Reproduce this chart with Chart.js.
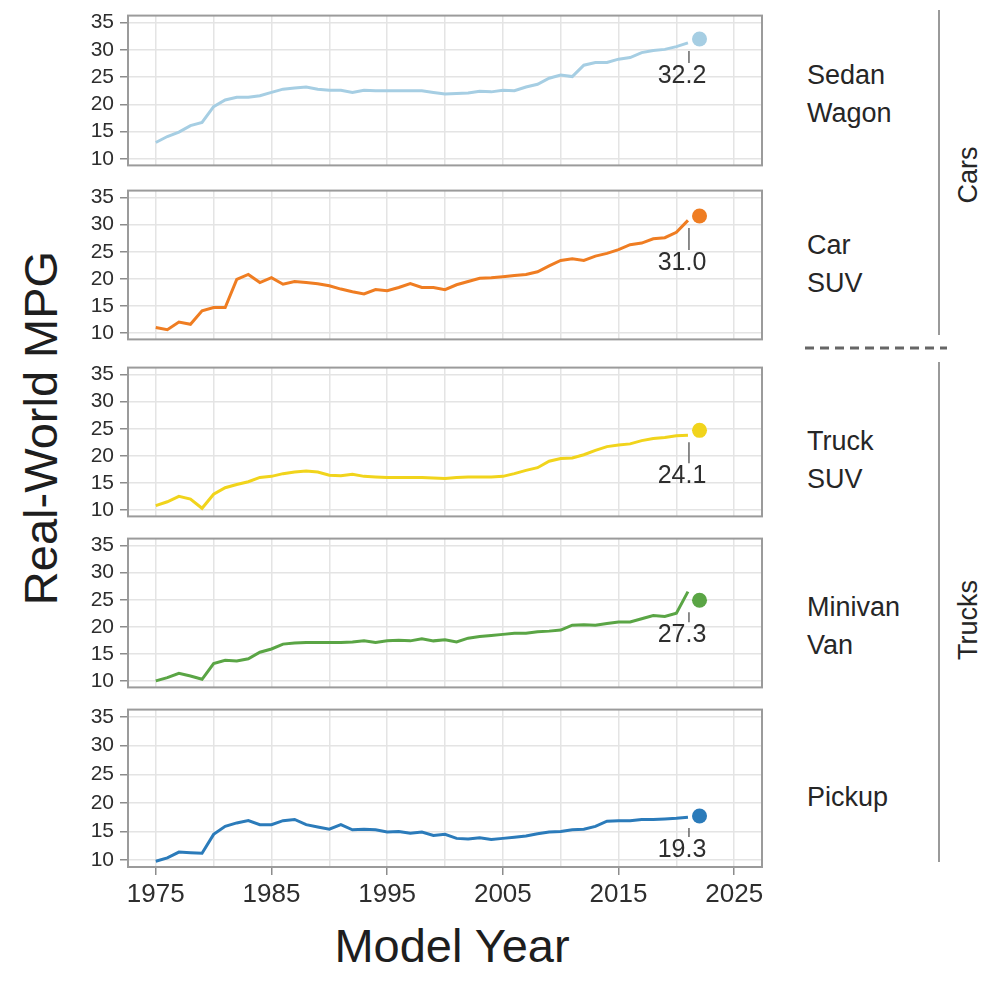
<!DOCTYPE html>
<html lang="en">
<head>
<meta charset="UTF-8">
<title>Real-World MPG by Vehicle Type</title>
<script src="https://cdn.jsdelivr.net/npm/chart.js"></script>
<style>
  * { font-family: 'Liberation Sans', Arial, sans-serif; }
  body { margin: 0; background: #fff; }
  #page { position: relative; width: 999px; height: 990px; overflow: hidden; background: #fff; }
  .panel { position: absolute; left: 0; }
  .rlabel { position: absolute; left: 807px; font-size: 27px; line-height: 38px; color: #262626; transform: translateY(-50%); white-space: nowrap; }
  .group { position: absolute; font-size: 27px; color: #262626; transform: translate(-50%, -50%) rotate(-90deg); white-space: nowrap; }
  .title { position: absolute; font-size: 47px; color: #1e1e1e; white-space: nowrap; transform: translate(-50%, -50%); }
  svg { position: absolute; left: 0; top: 0; }
</style>
</head>
<body>
<div id="page">
  <svg width="999" height="990">
    <line x1="939" y1="10" x2="939" y2="335" stroke="#9a9a9a" stroke-width="2"/>
    <line x1="939" y1="362" x2="939" y2="862" stroke="#9a9a9a" stroke-width="2"/>
    <line x1="805" y1="348" x2="947" y2="348" stroke="#666" stroke-width="3" stroke-dasharray="9 6"/>
  </svg>
  <div class="group" style="left:968px; top:175px;">Cars</div>
  <div class="group" style="left:968px; top:620px;">Trucks</div>
  <div class="title" style="left:40px; top:428px; transform: translate(-50%, -50%) rotate(-90deg);">Real-World MPG</div>
  <div class="title" style="left:452px; top:945px;">Model Year</div>
</div>
<script>
// model years
const years = [1975, 1976, 1977, 1978, 1979, 1980, 1981, 1982, 1983, 1984,
               1985, 1986, 1987, 1988, 1989, 1990, 1991, 1992, 1993, 1994,
               1995, 1996, 1997, 1998, 1999, 2000, 2001, 2002, 2003, 2004,
               2005, 2006, 2007, 2008, 2009, 2010, 2011, 2012, 2013, 2014,
               2015, 2016, 2017, 2018, 2019, 2020, 2021];

const sedanWagon = [13.0, 14.1, 14.9, 16.1, 16.7, 19.6, 20.8, 21.3, 21.3, 21.6,
                    22.2, 22.8, 23.0, 23.2, 22.8, 22.6, 22.6, 22.2, 22.6, 22.5,
                    22.5, 22.5, 22.5, 22.5, 22.2, 21.9, 22.0, 22.1, 22.4, 22.3,
                    22.6, 22.5, 23.2, 23.7, 24.8, 25.4, 25.1, 27.2, 27.7, 27.7,
                    28.3, 28.6, 29.5, 29.9, 30.1, 30.6, 31.3];
const carSuv = [11.0, 10.6, 12.0, 11.6, 14.1, 14.7, 14.7, 19.9, 20.8, 19.3,
                20.2, 19.0, 19.5, 19.3, 19.1, 18.7, 18.1, 17.6, 17.2, 18.0,
                17.8, 18.4, 19.1, 18.4, 18.4, 18.0, 18.9, 19.5, 20.1, 20.2,
                20.4, 20.6, 20.8, 21.3, 22.4, 23.4, 23.7, 23.4, 24.2, 24.7,
                25.4, 26.3, 26.6, 27.4, 27.6, 28.6, 30.8];
const truckSuv = [10.8, 11.5, 12.5, 12.0, 10.3, 12.9, 14.1, 14.7, 15.2, 16.0,
                  16.2, 16.7, 17.0, 17.2, 17.0, 16.4, 16.3, 16.6, 16.2, 16.1,
                  16.0, 16.0, 16.0, 16.0, 15.9, 15.8, 16.0, 16.1, 16.1, 16.1,
                  16.2, 16.7, 17.3, 17.8, 19.0, 19.5, 19.6, 20.2, 21.0, 21.7,
                  22.0, 22.2, 22.8, 23.2, 23.4, 23.7, 23.8];
const minivanVan = [10.0, 10.6, 11.4, 10.9, 10.3, 13.2, 13.8, 13.7, 14.1, 15.3,
                    15.9, 16.8, 17.0, 17.1, 17.1, 17.1, 17.1, 17.2, 17.4, 17.1,
                    17.4, 17.5, 17.4, 17.8, 17.4, 17.6, 17.2, 17.9, 18.2, 18.4,
                    18.6, 18.8, 18.8, 19.1, 19.2, 19.4, 20.3, 20.4, 20.3, 20.6,
                    20.9, 20.9, 21.5, 22.1, 21.9, 22.5, 26.5];
const pickup = [9.8, 10.4, 11.4, 11.3, 11.2, 14.5, 15.9, 16.5, 16.9, 16.2,
                16.2, 16.9, 17.1, 16.2, 15.8, 15.4, 16.2, 15.3, 15.4, 15.3,
                14.9, 15.0, 14.7, 14.9, 14.3, 14.5, 13.8, 13.7, 13.9, 13.6,
                13.8, 14.0, 14.2, 14.6, 14.9, 15.0, 15.3, 15.4, 15.9, 16.8,
                16.9, 16.9, 17.1, 17.1, 17.2, 17.3, 17.5];

// preliminary point drawn past the end of each line, and the printed end labels
const prelimYear = 2022;
const prelimValues = [32.0, 31.6, 24.7, 24.9, 17.7];
const endLabels = ['32.2', '31.0', '24.1', '27.3', '19.3'];

const panelNames = [['Sedan', 'Wagon'], ['Car', 'SUV'], ['Truck', 'SUV'], ['Minivan', 'Van'], ['Pickup']];
const yTicks = [10, 15, 20, 25, 30, 35];
const xTicks = [1975, 1980, 1985, 1990, 1995, 2000, 2005, 2010, 2015, 2020, 2025];
const xTickLabels = [1975, 1985, 1995, 2005, 2015, 2025];

const series = [sedanWagon, carSuv, truckSuv, minivanVan, pickup];

// layout
const colors = ['#a6cee3', '#ef7d22', '#f1d41c', '#5aa545', '#2b7bba'];
const panelTop = [11, 186, 363, 534, 705];
const panelBottom = [170, 344, 521, 692, 867];
const nameCenter = [94, 264, 460, 626, 797];
const labelDrop = [37, 47, 46, 35, 34];

const page = document.getElementById('page');

const panelDecor = {
  id: 'panelDecor',
  beforeDatasetsDraw(chart) {
    const a = chart.chartArea, ctx = chart.ctx;
    ctx.save();
    ctx.strokeStyle = '#9b9b9b';
    ctx.lineWidth = 2;
    ctx.strokeRect(a.left, a.top, a.right - a.left, a.bottom - a.top);
    ctx.restore();
  },
  afterDatasetsDraw(chart, args, opts) {
    const i = opts.index;
    const dot = chart.getDatasetMeta(1).data[0];
    const xEnd = chart.scales.x.getPixelForValue(years[years.length - 1]);
    const ctx = chart.ctx;
    const labelY = dot.y + labelDrop[i];
    ctx.save();
    ctx.strokeStyle = '#666';
    ctx.lineWidth = 1.5;
    ctx.beginPath();
    ctx.moveTo(xEnd + 1, dot.y + 12);
    ctx.lineTo(xEnd + 1, labelY - 13);
    ctx.stroke();
    ctx.fillStyle = '#2e2e2e';
    ctx.font = "25px 'Liberation Sans', Arial, sans-serif";
    ctx.textAlign = 'center';
    ctx.textBaseline = 'middle';
    ctx.fillText(endLabels[i], xEnd - 6, labelY);
    ctx.restore();
  }
};

series.forEach((vals, i) => {
  const last = i === series.length - 1;
  const padTop = 14;
  const padBottom = last ? 0 : 14;
  const axisH = last ? 52 : 0;
  const cv = document.createElement('canvas');
  cv.width = 780;
  cv.height = panelBottom[i] - panelTop[i] + padTop + padBottom + axisH;
  cv.className = 'panel';
  cv.style.top = (panelTop[i] - padTop) + 'px';
  page.appendChild(cv);

  const name = document.createElement('div');
  name.className = 'rlabel';
  name.style.top = nameCenter[i] + 'px';
  name.innerHTML = panelNames[i].join('<br>');
  page.appendChild(name);

  new Chart(cv, {
    type: 'line',
    data: {
      datasets: [
        {
          data: years.map((y, k) => ({ x: y, y: vals[k] })),
          borderColor: colors[i],
          borderWidth: 3,
          pointRadius: 0,
          tension: 0
        },
        {
          data: [{ x: prelimYear, y: prelimValues[i] }],
          showLine: false,
          pointRadius: 7.5,
          backgroundColor: colors[i],
          borderWidth: 0
        }
      ]
    },
    options: {
      responsive: false,
      animation: false,
      devicePixelRatio: 1,
      layout: { padding: { top: padTop, right: 18, bottom: padBottom, left: 0 } },
      plugins: {
        legend: { display: false },
        tooltip: { enabled: false },
        panelDecor: { index: i }
      },
      scales: {
        x: {
          type: 'linear',
          min: 1972.6,
          max: 2027.4,
          afterBuildTicks: s => { s.ticks = xTicks.map(v => ({ value: v })); },
          afterFit: s => { s.height = axisH; },
          border: { display: false },
          grid: {
            color: '#e4e4e4',
            lineWidth: 1.5,
            drawTicks: last,
            tickLength: 8,
            tickColor: c => (c.tick && xTickLabels.includes(c.tick.value)) ? '#8c8c8c' : 'rgba(0,0,0,0)'
          },
          ticks: {
            display: last,
            autoSkip: false,
            maxRotation: 0,
            padding: 4,
            color: '#2e2e2e',
            font: { size: 26 },
            callback: v => xTickLabels.includes(v) ? String(v) : ''
          }
        },
        y: {
          min: 8.8,
          max: 36.3,
          afterBuildTicks: s => { s.ticks = yTicks.map(v => ({ value: v })); },
          afterFit: s => { s.width = 128; },
          border: { display: false },
          grid: { color: '#e4e4e4', lineWidth: 1.5, tickLength: 8, tickColor: '#8c8c8c' },
          ticks: { padding: 6, color: '#2e2e2e', font: { size: 21 }, autoSkip: false }
        }
      }
    },
    plugins: [panelDecor]
  });
});
</script>
</body>
</html>
